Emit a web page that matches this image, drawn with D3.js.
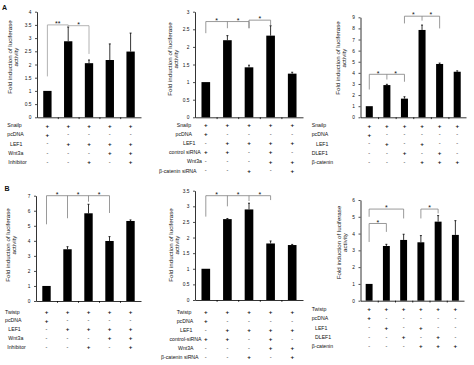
<!DOCTYPE html>
<html><head><meta charset="utf-8">
<script src="https://cdn.jsdelivr.net/npm/d3@7"></script>
<style>
body{margin:0;background:#fff}
svg{display:block}
text{font-family:"Liberation Sans",Arial,Helvetica,sans-serif;fill:#111}
</style>
</head><body>
<svg id="chart" width="474" height="365"></svg>
<script>
// ---------------- DATA ----------------
const yLabelLines = ["Fold induction of luciferase", "activity"];
const panelLetters = ["A", "B"];

// Panel A1 (Snailp, inhibitor)
const rowsA1 = ["Snailp", "pcDNA", "LEF1", "Wnt3a", "Inhibitor"];
const signsA1 = ["+++++", "+----", "-++++", "---++", "--+-+"];
const valuesA1 = [1.0, 2.88, 2.05, 2.17, 2.49];
const errTopA1 = [1.0, 3.42, 2.17, 2.78, 3.19];
const yTicksA1 = ["0", "0.5", "1", "1.5", "2", "2.5", "3", "3.5", "4"];
const bracketsA1 = [
  {bars: [0, 1], level: 3.5, drops: [1.55, 3.42], stars: ["**"]},
  {bars: [1, 2], level: 3.47, drops: [3.47, 2.4], stars: ["*"]}
];

// Panel A2 (Snailp, siRNA)
const rowsA2 = ["Snailp", "pcDNA", "LEF1", "control siRNA", "Wnt3a", "β-catenin siRNA"];
const signsA2 = ["+++++", "+----", "-++++", "++-+-", "---++", "--+-+"];
const valuesA2 = [1.0, 2.19, 1.42, 2.32, 1.24];
const errTopA2 = [1.0, 2.32, 1.48, 2.6, 1.28];
const yTicksA2 = ["0", "0.5", "1", "1.5", "2", "2.5", "3"];
const bracketsA2 = [
  {bars: [0, 1, 2], level: 2.72, drops: [2.39, 2.53, 2.53], stars: ["*", "*"]},
  {bars: [2, 3], level: 2.76, drops: [2.53, 2.62], stars: ["*"]}
];

// Panel A3 (Snailp, DLEF1)
const rowsA3 = ["Snailp", "pcDNA", "LEF1", "DLEF1", "β-catenin"];
const signsA3 = ["++++++", "+-----", "-+-+--", "--+-+-", "---+++"];
const valuesA3 = [1.0, 2.9, 1.68, 7.86, 4.8, 4.1];
const errTopA3 = [1.0, 2.97, 1.85, 8.3, 4.88, 4.18];
const yTicksA3 = ["0", "1", "2", "3", "4", "5", "6", "7", "8", "9"];
const bracketsA3 = [
  {bars: [0, 1, 2], level: 3.87, drops: [2.5, 3.4, 3.2], stars: ["*", "*"]},
  {bars: [2, 3, 4], level: 9.1, drops: [8.45, 8.7, 8.0], stars: ["*", "*"]}
];

// Panel B1 (Twistp, inhibitor)
const rowsB1 = ["Twistp", "pcDNA", "LEF1", "Wnt3a", "Inhibitor"];
const signsB1 = ["+++++", "+----", "-++++", "---++", "--+-+"];
const valuesB1 = [1.0, 3.44, 5.83, 3.99, 5.32];
const errTopB1 = [1.0, 3.61, 6.43, 4.28, 5.39];
const yTicksB1 = ["0", "1", "2", "3", "4", "5", "6", "7"];
const bracketsB1 = [
  {bars: [0, 1, 2, 3], level: 7.0, drops: [5.1, 5.5, 6.6, 5.85], stars: ["*", "*", "*"]}
];

// Panel B2 (Twistp, siRNA)
const rowsB2 = ["Twistp", "pcDNA", "LEF1", "control-siRNA", "Wnt3A", "β-catenin siRNA"];
const signsB2 = ["+++++", "+----", "-++++", "++-+-", "---++", "--+-+"];
const valuesB2 = [1.0, 2.59, 2.9, 1.81, 1.76];
const errTopB2 = [1.0, 2.61, 3.1, 1.89, 1.78];
const yTicksB2 = ["0", "0.5", "1", "1.5", "2", "2.5", "3", "3.5"];
const bracketsB2 = [
  {bars: [0, 1, 2, 3], level: 3.34, drops: [2.67, 3.0, 3.17, 3.2], stars: ["*", "*", "*"]}
];

// Panel B3 (Twistp, DLEF1)
const rowsB3 = ["Twistp", "pcDNA", "LEF1", "DLEF1", "β-catenin"];
const signsB3 = ["++++++", "+-----", "-+-+--", "--+-+-", "---+++"];
const valuesB3 = [1.0, 3.26, 3.62, 3.48, 4.71, 3.92];
const errTopB3 = [1.0, 3.36, 3.96, 3.88, 5.07, 4.77];
const yTicksB3 = ["0", "1", "2", "3", "4", "5", "6"];
const bracketsB3 = [
  {bars: [0, 1], level: 4.6, drops: [3.5, 4.1], stars: ["*"]},
  {bars: [0, 2], level: 5.46, drops: [5.0, 4.9], stars: ["*"]},
  {bars: [3, 4], level: 5.46, drops: [4.9, 5.2], stars: ["*"]}
];

// ---------------- LAYOUT ----------------
const panels = [
  {rows: rowsA1, signs: signsA1, values: valuesA1, err: errTopA1, yTicks: yTicksA1, brackets: bracketsA1,
   fr: {x0: 37, x1: 141, y0: 117.3, y1: 11.7, labX: [7.3, 7.3, 10, 8.3, 8.3], rowY0: 125.3, rowDy: 9.15, ylabX: 10, ylabY: 57, bc: "#a0a0a0"}},
  {rows: rowsA2, signs: signsA2, values: valuesA2, err: errTopA2, yTicks: yTicksA2, brackets: bracketsA2,
   fr: {x0: 195, x1: 303, y0: 117.3, y1: 11.7, labX: [176.7, 175.5, 183, 169, 187, 159], rowY0: 124.8, rowDy: 9.15, ylabX: 170, ylabY: 59, bc: "#808080"}},
  {rows: rowsA3, signs: signsA3, values: valuesA3, err: errTopA3, yTicks: yTicksA3, brackets: bracketsA3,
   fr: {x0: 360.5, x1: 466, y0: 117.3, y1: 17.3, labX: [311.7, 311.7, 316, 311.7, 311.7], rowY0: 125.3, rowDy: 9.15, ylabX: 338.3, ylabY: 58, bc: "#808080"}},
  {rows: rowsB1, signs: signsB1, values: valuesB1, err: errTopB1, yTicks: yTicksB1, brackets: bracketsB1,
   fr: {x0: 36, x1: 141, y0: 301, y1: 195.7, labX: [5, 5, 8.3, 8.3, 7.3], rowY0: 311.7, rowDy: 8.75, ylabX: 8, ylabY: 245, bc: "#808080"}},
  {rows: rowsB2, signs: signsB2, values: valuesB2, err: errTopB2, yTicks: yTicksB2, brackets: bracketsB2,
   fr: {x0: 195, x1: 303, y0: 300, y1: 190.7, labX: [176.7, 176.7, 180, 169.5, 178, 161], rowY0: 311.7, rowDy: 9, ylabX: 170.7, ylabY: 245, bc: "#808080"}},
  {rows: rowsB3, signs: signsB3, values: valuesB3, err: errTopB3, yTicks: yTicksB3, brackets: bracketsB3,
   fr: {x0: 360.5, x1: 464, y0: 300.7, y1: 200, labX: [311.7, 311.7, 315, 315, 311.7], rowY0: 309, rowDy: 9.25, ylabX: 339.3, ylabY: 242.5, bc: "#808080"}}
];

const svg = d3.select("#chart");
svg.append("rect").attr("width", 474).attr("height", 365).attr("fill", "#fff");

// panel letters
svg.append("text").attr("x", 2).attr("y", 9.5).attr("font-size", 7).attr("font-weight", "bold").text(panelLetters[0]);
svg.append("text").attr("x", 4.5).attr("y", 190.5).attr("font-size", 7).attr("font-weight", "bold").text(panelLetters[1]);

function drawPanel(p) {
  const fr = p.fr;
  const n = p.values.length;
  const g = svg.append("g");
  const x = d3.scaleBand().domain(d3.range(n)).range([fr.x0, fr.x1]).paddingInner(0).paddingOuter(0);
  const xb = d3.scaleLinear().domain([0, n]).range([fr.x0, fr.x1]);
  const tickVals = p.yTicks.map(Number);
  const y = d3.scaleLinear().domain([0, d3.max(tickVals)]).range([fr.y0, fr.y1]);
  const cx = i => x(i) + x.bandwidth() / 2;

  // y axis
  const ya = g.append("g").attr("transform", `translate(${fr.x0},0)`)
    .call(d3.axisLeft(y).tickValues(tickVals).tickFormat((d, i) => p.yTicks[i])
      .tickSize(2).tickSizeOuter(0).tickPadding(3.5));
  ya.select(".domain").attr("stroke", "#000").attr("stroke-width", 0.8);
  ya.selectAll(".tick line").attr("stroke", "#000").attr("stroke-width", 0.7);
  ya.selectAll(".tick text").attr("font-size", 4.8).attr("font-family", "Liberation Sans, Arial, sans-serif").attr("fill", "#222");

  // x axis (ticks at category boundaries)
  const xa = g.append("g").attr("transform", `translate(0,${fr.y0})`)
    .call(d3.axisBottom(xb).tickValues(d3.range(1, n)).tickFormat("").tickSize(1.8).tickSizeOuter(0));
  xa.select(".domain").attr("stroke", "#000").attr("stroke-width", 0.8);
  xa.selectAll(".tick line").attr("stroke", "#000").attr("stroke-width", 0.8);

  // bars
  const bw = x.bandwidth() * 0.4;
  g.selectAll("rect.bar").data(p.values).join("rect").attr("class", "bar")
    .attr("x", (d, i) => cx(i) - bw / 2).attr("width", bw)
    .attr("y", d => y(d)).attr("height", d => fr.y0 - y(d)).attr("fill", "#000");

  // error bars
  const eg = g.append("g").attr("stroke", "#000").attr("stroke-width", 0.8);
  p.err.forEach((e, i) => {
    if (e <= p.values[i]) return;
    eg.append("line").attr("x1", cx(i)).attr("x2", cx(i)).attr("y1", y(p.values[i])).attr("y2", y(e));
    eg.append("line").attr("x1", cx(i) - 1).attr("x2", cx(i) + 1).attr("y1", y(e)).attr("y2", y(e));
  });

  // significance brackets
  p.brackets.forEach(b => {
    const bg = g.append("g").attr("stroke", fr.bc).attr("stroke-width", 0.8).attr("fill", "none");
    const ly = y(b.level);
    bg.append("line").attr("x1", cx(b.bars[0])).attr("x2", cx(b.bars[b.bars.length - 1])).attr("y1", ly).attr("y2", ly);
    b.bars.forEach((bi, k) => {
      if (b.drops[k] < b.level)
        bg.append("line").attr("x1", cx(bi)).attr("x2", cx(bi)).attr("y1", ly).attr("y2", y(b.drops[k]));
    });
    b.stars.forEach((s, k) => {
      const mx = (cx(b.bars[k]) + cx(b.bars[k + 1])) / 2;
      g.append("text").attr("x", mx).attr("y", ly + 1.2).attr("text-anchor", "middle")
        .attr("font-size", 7).attr("fill", "#111").text(s);
    });
  });

  // y label (two rotated lines)
  yLabelLines.forEach((t, k) => {
    g.append("text")
      .attr("transform", `translate(${fr.ylabX + k * 6 + 2.1},${fr.ylabY}) rotate(-90)`)
      .attr("text-anchor", "middle").attr("font-size", 6.2).attr("fill", "#222").text(t);
  });

  // row labels and +/- signs
  p.rows.forEach((r, k) => {
    const ry = fr.rowY0 + k * fr.rowDy;
    g.append("text").attr("x", fr.labX[k]).attr("y", ry + 2).attr("font-size", 5.2).attr("fill", "#222").text(r);
    p.signs[k].split("").forEach((s, i) => {
      g.append("text").attr("x", cx(i)).attr("y", ry + (s === "+" ? 2.2 : 1.8)).attr("text-anchor", "middle")
        .attr("font-size", s === "+" ? 6.2 : 5.6).attr("font-weight", s === "+" ? "bold" : "normal")
        .attr("fill", "#222").text(s);
    });
  });
}

panels.forEach(drawPanel);
</script>
</body></html>
